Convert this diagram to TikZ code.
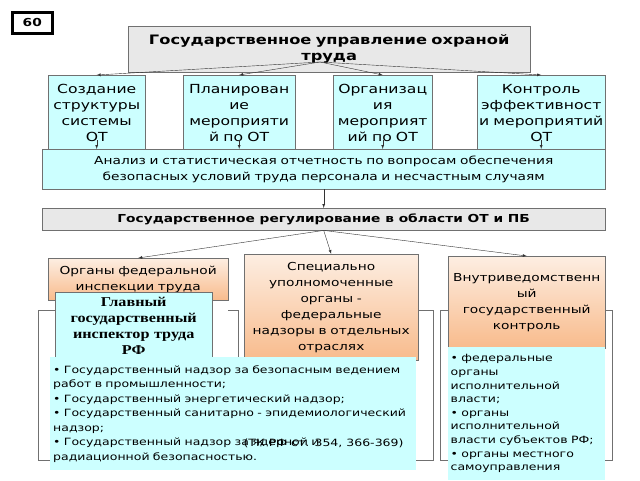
\documentclass[tikz,border=0pt]{standalone}
\usepackage{fontspec}
\setmainfont{DejaVu Sans}[FakeStretch=1.25]
\newfontfamily\serifbold{Liberation Serif}[FakeStretch=1.2]
\usetikzlibrary{positioning}
\definecolor{boxgray}{HTML}{E8E8E8}
\definecolor{boxcyan}{HTML}{CCFFFF}
\definecolor{orangetop}{HTML}{FDEEE2}
\definecolor{orangebot}{HTML}{F8BB8C}
\definecolor{edgegray}{HTML}{707070}
\tikzset{
  box/.style={draw=edgegray, anchor=north west, inner sep=1pt, align=center},
  graybox/.style={box, fill=boxgray, font=\bfseries\fontsize{11}{13}\selectfont},
  cyanbox/.style={box, fill=boxcyan, font=\fontsize{12.5}{16}\selectfont},
  orangebox/.style={box, top color=orangetop, bottom color=orangebot, font=\fontsize{11}{16}\selectfont},
  frame/.style={draw=edgegray, thick},
  arr/.style={-latex, thin, draw=black!80},
}
\begin{document}
\begin{tikzpicture}[x=1pt,y=-1pt]
\useasboundingbox[fill=white] (0,0) rectangle (640,480);

% number badge
\node[draw, line width=2.5pt, anchor=north west, minimum width=40pt, minimum height=21pt,
  font=\bfseries\fontsize{11}{13}\selectfont] (num) at (11,11) {60};

% top level
\node[graybox, minimum width=402pt, minimum height=46pt, text width=398pt,
  font=\bfseries\fontsize{13}{16}\selectfont] (gov) at (128,26)
  {Государственное управление охраной\\труда};
\coordinate (hub) at (320,62);

% functions
\node[cyanbox, minimum width=97pt, minimum height=75pt, text width=95pt] (c1) at (48,75) {Создание\\структуры\\системы\\ОТ};
\node[cyanbox, minimum width=112pt, minimum height=75pt, text width=110pt] (c2) at (183,75) {Планирован\\ие\\мероприяти\\й по ОТ};
\node[cyanbox, minimum width=99pt, minimum height=75pt, text width=97pt] (c3) at (333,75) {Организац\\ия\\мероприят\\ий по ОТ};
\node[cyanbox, minimum width=128pt, minimum height=75pt, text width=126pt] (c4) at (477,75) {Контроль\\эффективност\\и мероприятий\\ОТ};
\foreach \n in {c1,c2,c3,c4}
  \draw[arr] (hub) -- (\n.north);

% analysis
\node[cyanbox, minimum width=563pt, minimum height=40pt, text width=560pt,
  font=\fontsize{11}{16}\selectfont] (an) at (42,149)
  {Анализ и статистическая отчетность по вопросам обеспечения\\безопасных условий труда персонала и несчастным случаям};
\foreach \n in {c1,c2,c3,c4}
  \draw[arr] ([yshift=10pt]\n.south) -- (\n.south |- an.north);

% regulation
\node[graybox, minimum width=563pt, minimum height=22pt] (reg) at (42,208)
  {Государственное регулирование в области ОТ и ПБ};
\draw[arr] (an) -- (reg);

% frames
\draw[frame] (58,310) -- (38,310) -- (38,460) -- (238,460) -- (238,310) -- (228,310);
\draw[frame] (418,310) -- (433,310) -- (433,460) -- (250,460);
\draw[frame] (448,310) -- (440,310) -- (440,460) -- (612,460) -- (612,310) -- (605,310);

% branches
\node[orangebox, minimum width=180pt, minimum height=42pt, text width=178pt] (o1) at (48,258)
  {Органы федеральной\\инспекции труда};
\node[orangebox, minimum width=174pt, minimum height=106pt, text width=172pt] (o2) at (244,254)
  {Специально\\уполномоченные\\органы -\\федеральные\\надзоры в отдельных\\отраслях};
\node[orangebox, minimum width=157pt, minimum height=92pt, text width=155pt] (o3) at (448,256)
  {Внутриведомственн\\ый\\государственный\\контроль};
\draw[arr] (reg.south) -- (o1.north);
\draw[arr] (reg.south) -- (o2.north);
\draw[arr] (reg.south) -- (o3.north);

% inspector
\node[box, fill=boxcyan, minimum width=157pt, minimum height=68pt, text width=155pt,
  font=\serifbold\bfseries\fontsize{13.5}{16}\selectfont] (insp) at (55,292)
  {Главный\\государственный\\инспектор труда\\РФ};

% supervisions
\node[box, draw=none, fill=boxcyan, minimum width=366pt, minimum height=113pt, text width=360pt,
  align=left, font=\fontsize{10}{14.5}\selectfont] (nadz) at (50,357)
  {\textbullet{} Государственный надзор за безопасным ведением\\работ в промышленности;\\
   \textbullet{} Государственный энергетический надзор;\\
   \textbullet{} Государственный санитарно - эпидемиологический\\надзор;\\
   \textbullet{} Государственный надзор за ядерной и\\радиационной безопасностью.};
\node[font=\fontsize{10}{12}\selectfont, anchor=west] (tk) at (240,443) {(ТК РФ ст. 354, 366-369)};

% internal control
\node[box, draw=none, fill=boxcyan, minimum width=157pt, minimum height=133pt, text width=152pt,
  align=left, font=\fontsize{10}{13.6}\selectfont, anchor=north west, inner ysep=3pt] (vnutr) at (448,347)
  {\textbullet{} федеральные\\органы\\исполнительной\\власти;\\\textbullet{} органы\\исполнительной\\власти субъектов РФ;\\\textbullet{} органы местного\\самоуправления};
\end{tikzpicture}
\end{document}
